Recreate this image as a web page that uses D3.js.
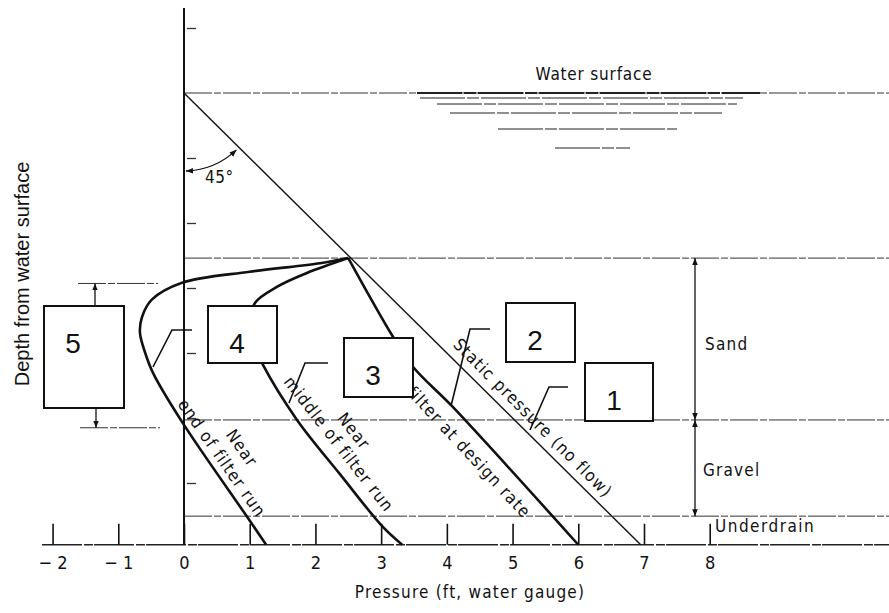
<!DOCTYPE html>
<html>
<head>
<meta charset="utf-8">
<script src="https://cdn.jsdelivr.net/npm/d3@7"></script>
<style>
body { margin: 0; background: #fff; }
.cond { font-family: "DejaVu Sans Condensed", "DejaVu Sans", sans-serif; font-stretch: condensed; letter-spacing: 1.2px; fill: #111; }
.arial { font-family: "Liberation Sans", Arial, sans-serif; fill: #111; }
</style>
</head>
<body>
<svg id="chart" width="889" height="613"></svg>
<script>
// pressure (ft of water) against depth below water surface (ft)
var xTicks = [-2, -1, 0, 1, 2, 3, 4, 5, 6, 7, 8];
var yTicks = [-1, 1, 2, 3, 4, 5, 6];
var sandTop = 2.54, gravelTop = 5.03, underdrainTop = 6.51, bottomDepth = 6.95;
var negTop = 2.93, negBottom = 5.15;   // zone of negative pressure (box 5)

var staticPressure = [[0, 0], [6.95, 6.95]];
var designRate = [[2.5, 2.54], [2.83, 3.14], [3.18, 3.75], [3.49, 4.22], [4.09, 4.83], [6.0, 6.95]];
var middleRun = [[2.5, 2.54], [1.87, 2.77], [1.42, 2.98], [1.08, 3.23], [1.0, 3.57], [1.07, 3.88],
                 [1.2, 4.18], [1.72, 5.03], [2.37, 5.86], [3.03, 6.68], [3.32, 6.95]];
var endRun = [[2.5, 2.54], [2.07, 2.62], [1.0, 2.75], [-0.03, 2.92], [-0.49, 3.18], [-0.64, 3.45],
              [-0.67, 3.69], [-0.59, 4.0], [-0.47, 4.31], [-0.03, 5.06], [0.96, 6.52], [1.25, 6.95]];

var svg = d3.select("#chart");
var x = d3.scaleLinear().domain([0, 7]).range([184, 644]);
var y = d3.scaleLinear().domain([0, 7]).range([93, 548]);

var defs = svg.append("defs");
defs.append("marker").attr("id", "arr")
  .attr("viewBox", "0 0 10 10").attr("refX", 10).attr("refY", 5)
  .attr("markerWidth", 7).attr("markerHeight", 9).attr("markerUnits", "userSpaceOnUse")
  .attr("orient", "auto-start-reverse")
  .append("path").attr("d", "M0,1 L10,5 L0,9 Z").attr("fill", "#111");

// horizontal layer lines
var dash = "28,2,7,2";
[0, sandTop, gravelTop, underdrainTop].forEach(function(d) {
  svg.append("line").attr("x1", x(0)).attr("x2", 889).attr("y1", y(d)).attr("y2", y(d))
    .attr("stroke", "#333").attr("stroke-width", 1).attr("stroke-dasharray", dash);
});
svg.append("line").attr("x1", 42).attr("x2", 889).attr("y1", y(bottomDepth)).attr("y2", y(bottomDepth))
  .attr("stroke", "#222").attr("stroke-width", 1.3).attr("stroke-dasharray", "40,2,9,1");

// water surface hatching
var ripples = [[417, 760, 93, 2], [420, 743, 98, 1.2], [437, 737, 104, 1.2], [450, 722, 113, 1.2], [498, 677, 129, 1.2], [555, 630, 148, 1.2]];
ripples.forEach(function(r) {
  svg.append("line").attr("x1", r[0]).attr("x2", r[1]).attr("y1", r[2]).attr("y2", r[2])
    .attr("stroke", "#222").attr("stroke-width", r[3]).attr("stroke-dasharray", "45,2,12,2");
});
svg.append("text").attr("class", "cond").attr("x", 594).attr("y", 80)
  .attr("text-anchor", "middle").style("font-size", "17px").style("letter-spacing", "0.8px").text("Water surface");

// vertical axis
svg.append("line").attr("x1", x(0)).attr("x2", x(0)).attr("y1", 8).attr("y2", y(bottomDepth))
  .attr("stroke", "#111").attr("stroke-width", 2);
var yAxis = svg.append("g").attr("transform", "translate(" + (x(0) + 3) + ",0)")
  .call(d3.axisRight(y).tickValues(yTicks).tickSize(9).tickFormat(""));
yAxis.select(".domain").remove();
yAxis.selectAll("line").attr("stroke", "#333").attr("stroke-width", 1.3);

// x axis
var xAxis = svg.append("g").attr("transform", "translate(0," + y(bottomDepth) + ")")
  .call(d3.axisBottom(x).tickValues(xTicks).tickSize(-21).tickPadding(11)
    .tickFormat(function(d) { return d < 0 ? "\u2212 " + (-d) : d; }));
xAxis.select(".domain").remove();
xAxis.selectAll("line").attr("stroke", "#111").attr("stroke-width", 1.6);
xAxis.selectAll("text").attr("class", "cond").style("font-size", "18px").style("letter-spacing", "0px");

// curves
var line = d3.line().x(function(d) { return x(d[0]); }).y(function(d) { return y(d[1]); })
  .curve(d3.curveCatmullRom.alpha(0.5));
svg.append("path").datum(staticPressure).attr("d", line).attr("fill", "none")
  .attr("stroke", "#111").attr("stroke-width", 1.4);
[designRate, middleRun, endRun].forEach(function(s) {
  svg.append("path").datum(s).attr("d", line).attr("fill", "none")
    .attr("stroke", "#111").attr("stroke-width", 2.6);
});

// 45 degree arc
var r = 78, ang = Math.atan2(y(7) - y(0), x(7) - x(0));
var ax1 = x(0) + 2, ay1 = y(0) + r, ax2 = x(0) + r * Math.cos(ang) - 3, ay2 = y(0) + r * Math.sin(ang) + 2;
svg.append("path").attr("d", "M" + ax1 + "," + ay1 + " A" + r + "," + r + " 0 0 0 " + ax2 + "," + ay2)
  .attr("fill", "none").attr("stroke", "#111").attr("stroke-width", 1.3)
  .attr("marker-start", "url(#arr)").attr("marker-end", "url(#arr)");
svg.append("text").attr("class", "cond").attr("x", 205).attr("y", 183)
  .style("font-size", "17px").style("letter-spacing", "0.5px").text("45\u00b0");

// curve labels (pixel centre, angle)
var labels = [
  { t: "Static pressure (no flow)", cx: 533, cy: 418, a: 45 },
  { t: "filter at design rate", cx: 469, cy: 452, a: 47 },
  { t: "middle of filter run", cx: 339, cy: 444, a: 52 },
  { t: "Near", cx: 354, cy: 431, a: 52 },
  { t: "end of filter run", cx: 222, cy: 458, a: 55 },
  { t: "Near", cx: 242, cy: 448, a: 55 }
];
labels.forEach(function(l) {
  svg.append("text").attr("class", "cond")
    .attr("transform", "translate(" + l.cx + "," + l.cy + ") rotate(" + l.a + ")")
    .attr("text-anchor", "middle").attr("dy", "0.35em").style("font-size", "17px").text(l.t);
});

// leaders from boxes to curves
var leaders = [
  [[568, 387], [549, 387], [530, 430]],
  [[490, 329], [470, 329], [451, 406]],
  [[328, 363], [305, 363], [289, 403]],
  [[192, 330], [172, 330], [153, 367]]
];
leaders.forEach(function(p) {
  svg.append("path").attr("d", d3.line()(p)).attr("fill", "none")
    .attr("stroke", "#111").attr("stroke-width", 1.6);
});

// dimension for the negative-pressure zone
svg.append("line").attr("x1", 78).attr("x2", 158).attr("y1", y(negTop)).attr("y2", y(negTop))
  .attr("stroke", "#333").attr("stroke-width", 1).attr("stroke-dasharray", dash);
svg.append("line").attr("x1", 80).attr("x2", 160).attr("y1", y(negBottom)).attr("y2", y(negBottom))
  .attr("stroke", "#333").attr("stroke-width", 1).attr("stroke-dasharray", dash);
svg.append("line").attr("x1", 95).attr("x2", 95).attr("y1", 306).attr("y2", y(negTop))
  .attr("stroke", "#111").attr("stroke-width", 1.3).attr("marker-end", "url(#arr)");
svg.append("line").attr("x1", 96).attr("x2", 96).attr("y1", 408).attr("y2", y(negBottom))
  .attr("stroke", "#111").attr("stroke-width", 1.3).attr("marker-end", "url(#arr)");

// sand / gravel dimension arrows
[[sandTop, gravelTop], [gravelTop, underdrainTop]].forEach(function(s) {
  svg.append("line").attr("x1", 695).attr("x2", 695).attr("y1", y(s[0])).attr("y2", y(s[1]))
    .attr("stroke", "#111").attr("stroke-width", 1.3)
    .attr("marker-start", "url(#arr)").attr("marker-end", "url(#arr)");
});
svg.append("text").attr("class", "cond").attr("x", 705).attr("y", 350).style("font-size", "17px").text("Sand");
svg.append("text").attr("class", "cond").attr("x", 703).attr("y", 476).style("font-size", "17px").text("Gravel");
svg.append("text").attr("class", "cond").attr("x", 715).attr("y", 532).style("font-size", "17px").style("letter-spacing", "1.5px").text("Underdrain");

// numbered boxes
var boxes = [
  { n: "1", x: 585, y: 363, w: 68, h: 58 },
  { n: "2", x: 506, y: 303, w: 69, h: 59 },
  { n: "3", x: 344, y: 338, w: 69, h: 59 },
  { n: "4", x: 208, y: 306, w: 69, h: 57 },
  { n: "5", x: 44, y: 306, w: 80, h: 102 }
];
boxes.forEach(function(b) {
  svg.append("rect").attr("x", b.x).attr("y", b.y).attr("width", b.w).attr("height", b.h)
    .attr("fill", "#fff").attr("stroke", "#111").attr("stroke-width", 2);
  svg.append("text").attr("class", "arial").attr("x", b.x + 29).attr("y", b.y + 47)
    .attr("text-anchor", "middle").style("font-size", "28px").text(b.n);
});

// axis titles
svg.append("text").attr("class", "arial")
  .attr("transform", "translate(29,274) rotate(-90)").attr("text-anchor", "middle")
  .style("font-size", "20px").text("Depth from water surface");
svg.append("text").attr("class", "cond").attr("x", 470).attr("y", 598)
  .attr("text-anchor", "middle").style("font-size", "17px").text("Pressure (ft, water gauge)");
</script>
</body>
</html>
